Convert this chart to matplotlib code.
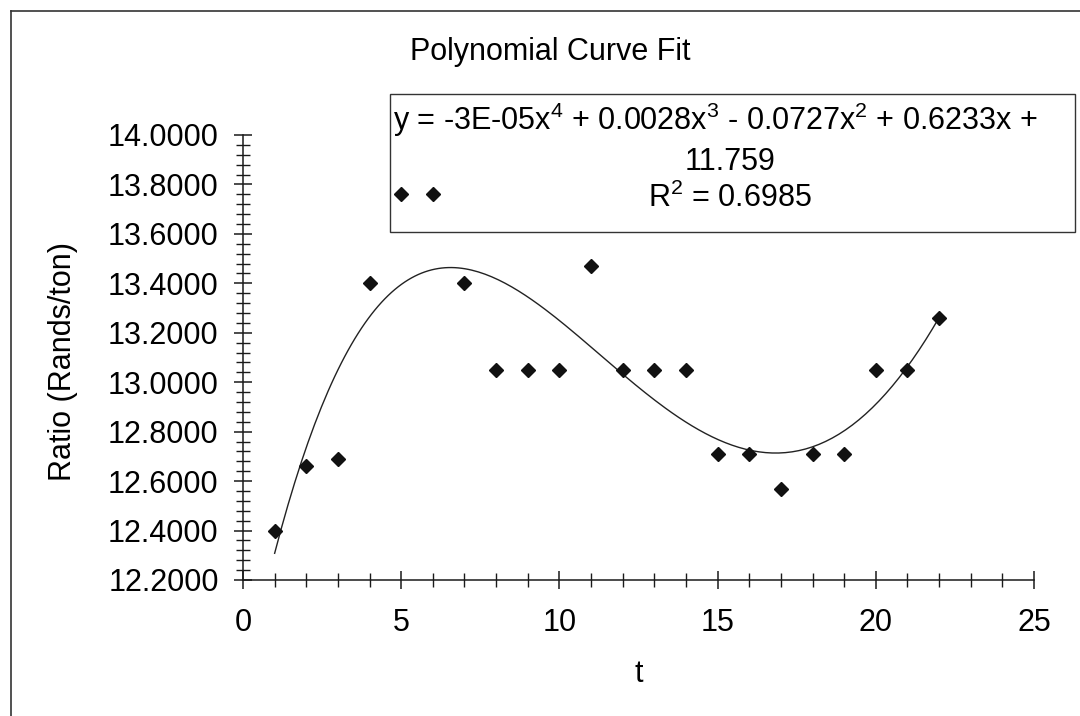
import matplotlib
matplotlib.use('Agg')
import matplotlib.pyplot as plt
from matplotlib.lines import Line2D
from matplotlib.patches import Rectangle
from matplotlib.ticker import MultipleLocator, FormatStrFormatter
import numpy as np

plt.rcParams['font.family'] = ['Liberation Sans', 'DejaVu Sans']
plt.rcParams['mathtext.fontset'] = 'custom'
plt.rcParams['mathtext.rm'] = 'Liberation Sans'

FONT_SIZE = 22
W, H = 1080, 716

# data
t = [1, 2, 3, 4, 5, 6, 7, 8, 9, 10, 11, 12, 13, 14, 15, 16, 17, 18, 19, 20, 21, 22]
ratio = [12.40, 12.66, 12.69, 13.40, 13.76, 13.76, 13.40, 13.05, 13.05, 13.05, 13.47,
         13.05, 13.05, 13.05, 12.71, 12.71, 12.57, 12.71, 12.71, 13.05, 13.05, 13.26]

eq_line1 = ('y = -3E-05x$\\mathregular{^4}$ + 0.0028x$\\mathregular{^3}$ - '
            '0.0727x$\\mathregular{^2}$ + 0.6233x +')
eq_line2 = '11.759'
eq_line3 = 'R$\\mathregular{^2}$ = 0.6985'


def fx(px):
    return px / W


def fy(py):
    return 1 - py / H


fig = plt.figure(figsize=(W / 100, H / 100), dpi=100)
fig.patch.set_facecolor('white')

# plot area: x 0..25 spans px 243..1034, y 12.2..14.0 spans px 580..135
ax = fig.add_axes([fx(243), fy(580), fx(1034) - fx(243), fy(135) - fy(580)])
ax.set_xlim(0, 25)
ax.set_ylim(12.2, 14.0)
for side in ('top', 'right'):
    ax.spines[side].set_visible(False)
for side in ('left', 'bottom'):
    ax.spines[side].set_linewidth(1.1)
    ax.spines[side].set_color('#1a1a1a')

ax.xaxis.set_major_locator(MultipleLocator(5))
ax.xaxis.set_minor_locator(MultipleLocator(1))
ax.yaxis.set_major_locator(MultipleLocator(0.2))
ax.yaxis.set_minor_locator(MultipleLocator(0.04))
ax.yaxis.set_major_formatter(FormatStrFormatter('%.4f'))

ax.tick_params(which='major', direction='inout', length=13, width=1.1,
               color='#1a1a1a', labelsize=FONT_SIZE)
ax.tick_params(which='minor', direction='inout', length=10, width=1.0,
               color='#1a1a1a')
ax.tick_params(axis='x', which='major', pad=14)
ax.tick_params(axis='y', which='major', pad=11)

# data points
ax.plot(t, ratio, linestyle='none', marker='D', markersize=7.3,
        color='#111111', zorder=4, clip_on=False)

# 4th order polynomial trendline fitted to the points
coef = np.polyfit(t, ratio, 4)
tt = np.linspace(min(t), max(t), 200)
ax.plot(tt, np.polyval(coef, tt), color='#222222', linewidth=1.0, zorder=3)

ax.set_xlabel('t', fontsize=FONT_SIZE)
ax.xaxis.set_label_coords(0.5, -0.178)
ax.set_ylabel('Ratio (Rands/ton)', fontsize=FONT_SIZE)
ax.yaxis.set_label_coords(-0.209, 0.492)

fig.text(fx(550), fy(52), 'Polynomial Curve Fit', fontsize=FONT_SIZE,
         ha='center', va='center')

# trendline label box
box = Rectangle((fx(390), fy(232)), fx(1075) - fx(390), fy(94) - fy(232),
                transform=fig.transFigure, facecolor='none',
                edgecolor='#333333', linewidth=1.0)
fig.patches.append(box)
fig.text(fx(393), fy(120), eq_line1, fontsize=FONT_SIZE, ha='left', va='center')
fig.text(fx(730), fy(162), eq_line2, fontsize=FONT_SIZE, ha='center', va='center')
fig.text(fx(730), fy(198), eq_line3, fontsize=FONT_SIZE, ha='center', va='center')

# chart area frame (left and top edges show in the scan)
fig.add_artist(Line2D([fx(11), fx(11)], [fy(11), 0], transform=fig.transFigure,
                      color='#333333', linewidth=1.2))
fig.add_artist(Line2D([fx(11), 1], [fy(11), fy(11)], transform=fig.transFigure,
                      color='#333333', linewidth=1.2))

fig.savefig('out.png', dpi=100)
